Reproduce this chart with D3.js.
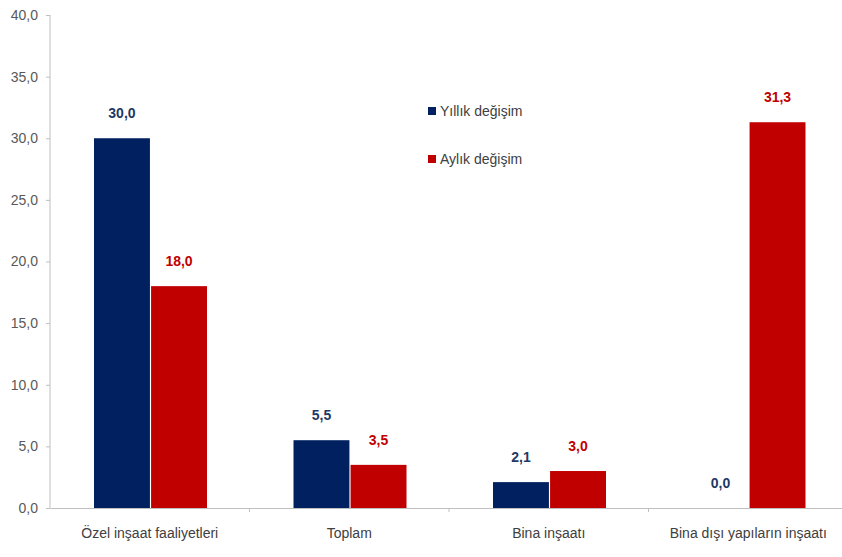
<!DOCTYPE html>
<html>
<head>
<meta charset="utf-8">
<script src="https://cdn.jsdelivr.net/npm/d3@7"></script>
<style>
  body { margin: 0; background: #fff; }
  text { font-family: "Liberation Sans", Arial, sans-serif; }
</style>
</head>
<body>
<svg width="842" height="557"></svg>
<script>
// categories and series
var categories = ['Özel inşaat faaliyetleri', 'Toplam', 'Bina inşaatı', 'Bina dışı yapıların inşaatı'];
var seriesNames = ['Yıllık değişim', 'Aylık değişim'];
var yillik = [30.0, 5.5, 2.1, 0.0];
var aylik = [18.0, 3.5, 3.0, 31.3];
var yTicks = [0, 5, 10, 15, 20, 25, 30, 35, 40];

var colors = ['#002060', '#C00000'];
var labelColors = ['#1F3864', '#C00000'];

var svg = d3.select('svg');
var svgWidth = +svg.attr('width');
var svgHeight = +svg.attr('height');

var padding = {t: 15, r: 0, b: 49, l: 50};
var chartWidth = 798; // plot runs a little past the right edge
var chartHeight = svgHeight - padding.t - padding.b;

var fmt = function(v) { return d3.format('.1f')(v).replace('.', ','); };

var rows = categories.map(function(c, i) {
    return {cat: c, values: [yillik[i], aylik[i]]};
});

var x = d3.scaleBand()
    .domain(categories)
    .range([0, chartWidth]);

var inner = d3.scaleBand()
    .domain([0, 1])
    .range([44, 157])
    .paddingInner(0.02);

var y = d3.scaleLinear()
    .domain([0, 40])
    .range([chartHeight, 0]);

var chartG = svg.append('g')
    .attr('transform', 'translate(' + [padding.l, padding.t] + ')');

// y axis
var yAxis = d3.axisLeft(y).tickValues(yTicks).tickFormat(fmt).tickSize(4).tickPadding(8);
var yG = chartG.append('g').call(yAxis);
yG.select('.domain').attr('stroke', '#BFBFBF').attr('d', 'M0,0V' + chartHeight);
yG.selectAll('.tick line').attr('stroke', '#BFBFBF');
yG.selectAll('.tick text').attr('fill', '#595959').style('font-size', '14px');

// bars
var groups = chartG.selectAll('.cat')
    .data(rows)
    .enter()
    .append('g')
    .attr('class', 'cat')
    .attr('transform', function(d) { return 'translate(' + x(d.cat) + ',0)'; });

groups.selectAll('rect')
    .data(function(d) { return d.values; })
    .enter()
    .append('rect')
    .attr('x', function(d, i) { return inner(i); })
    .attr('width', inner.bandwidth())
    .attr('y', function(d) { return y(d); })
    .attr('height', function(d) { return chartHeight - y(d); })
    .attr('fill', function(d, i) { return colors[i]; });

groups.selectAll('text.value')
    .data(function(d) { return d.values; })
    .enter()
    .append('text')
    .attr('class', 'value')
    .attr('x', function(d, i) { return inner(i) + inner.bandwidth() / 2; })
    .attr('y', function(d) { return y(d) - 20; })
    .attr('text-anchor', 'middle')
    .attr('fill', function(d, i) { return labelColors[i]; })
    .style('font-size', '14px')
    .style('font-weight', 'bold')
    .text(fmt);

// x axis
var xAxis = d3.axisBottom(x).tickSize(0).tickPadding(20);
var xG = chartG.append('g')
    .attr('transform', 'translate(0,' + chartHeight + ')')
    .call(xAxis);
xG.select('.domain').attr('stroke', '#BFBFBF');
xG.selectAll('.tick text').attr('fill', '#404040').style('font-size', '14px');

// small separators between categories
xG.selectAll('.sep')
    .data(categories.slice(1))
    .enter()
    .append('line')
    .attr('class', 'sep')
    .attr('x1', function(d) { return x(d); })
    .attr('x2', function(d) { return x(d); })
    .attr('y1', 0)
    .attr('y2', 4)
    .attr('stroke', '#BFBFBF');

// legend
var legend = svg.append('g')
    .attr('transform', 'translate(428,105)');
var items = legend.selectAll('g')
    .data(seriesNames)
    .enter()
    .append('g')
    .attr('transform', function(d, i) { return 'translate(0,' + i * 48 + ')'; });
items.append('rect')
    .attr('width', 8)
    .attr('height', 8)
    .attr('y', 2)
    .attr('fill', function(d, i) { return colors[i]; });
items.append('text')
    .attr('x', 12)
    .attr('y', 11)
    .attr('fill', '#404040')
    .style('font-size', '14px')
    .text(function(d) { return d; });
</script>
</body>
</html>
